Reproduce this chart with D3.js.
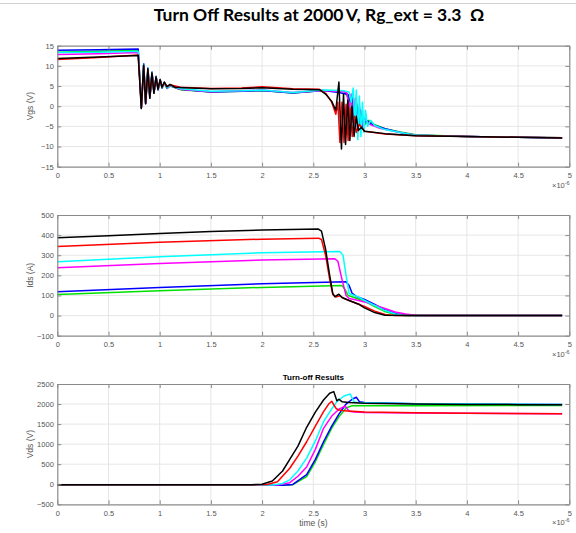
<!DOCTYPE html>
<html>
<head>
<meta charset="utf-8">
<script src="https://cdnjs.cloudflare.com/ajax/libs/d3/7.8.5/d3.min.js"></script>
<style>
  body { margin: 0; background: #fff; }
  svg { display: block; }
</style>
</head>
<body>
<script>
// time axis (x 1e-6 s)
const xTicks = [0, 0.5, 1, 1.5, 2, 2.5, 3, 3.5, 4, 4.5, 5];
const vgsTicks = [-15, -10, -5, 0, 5, 10, 15];
const idsTicks = [-100, 0, 100, 200, 300, 400, 500];
const vdsTicks = [-500, 0, 500, 1000, 1500, 2000, 2500];

// Vgs (V) traces, [t, v]
const vgsGreen = [[0,13.4],[0.4,13.6],[0.79,13.8],[0.81,5],[0.821,-0.2],[0.844,10.1],[0.863,0.9],[0.885,9.1],[0.904,2.3],[0.925,8.1],[0.944,3.4],[0.965,7.1],[0.984,4.2],[1.005,6.3],[1.023,4.5],[1.046,5.7],[1.072,4.4],[1.1,5],[1.2,4.1],[1.5,3.5],[1.8,3.7],[2.0,3.9],[2.3,3.3],[2.6,3.9],[2.8,3.8],[2.84,2],[2.86,-2],[2.88,2.5],[2.9,-4],[2.92,1.5],[2.94,-5],[2.96,-1],[2.99,-5],[3.04,-3.5],[3.1,-4.6],[3.2,-5.6],[3.35,-6.4],[3.5,-7.1],[4,-7.5],[4.5,-7.7],[4.93,-7.8]];
const vgsBlue = [[0,13.9],[0.4,14],[0.79,14.2],[0.81,5],[0.821,-0.4],[0.844,10.5],[0.863,0.6],[0.885,9.5],[0.904,2],[0.925,8.5],[0.944,3.2],[0.965,7.4],[0.984,4],[1.005,6.6],[1.023,4.5],[1.046,5.9],[1.072,4.4],[1.1,5.1],[1.2,4.2],[1.5,3.5],[1.8,3.7],[2.0,3.9],[2.3,3.3],[2.6,3.9],[2.75,3.4],[2.84,2.9],[2.86,1],[2.88,2],[2.9,-3],[2.92,1],[2.94,-5],[2.96,-1],[2.98,-5],[3.02,-3.5],[3.08,-4.6],[3.2,-5.6],[3.35,-6.5],[3.5,-7.2],[4,-7.5],[4.5,-7.7],[4.93,-7.9]];
const vgsMagenta = [[0,12.8],[0.4,13],[0.79,13.3],[0.81,5],[0.821,-0.3],[0.844,10.2],[0.863,0.8],[0.885,9.2],[0.904,2.2],[0.925,8.2],[0.944,3.4],[0.965,7.2],[0.984,4.2],[1.005,6.4],[1.023,4.6],[1.046,5.8],[1.072,4.5],[1.1,5.1],[1.2,4.2],[1.5,3.6],[1.8,3.8],[2.0,4],[2.3,3.4],[2.6,3.9],[2.8,3.6],[2.83,3.3],[2.85,-1],[2.87,3],[2.89,-4],[2.91,2],[2.93,-5],[2.95,0],[2.97,-5],[3.0,-3],[3.05,-4.5],[3.15,-5.5],[3.3,-6.3],[3.5,-7.2],[4,-7.5],[4.5,-7.7],[4.93,-7.8]];
const vgsCyan = [[0,13.3],[0.4,13.4],[0.79,13.6],[0.81,5],[0.821,-0.4],[0.844,10.4],[0.863,0.7],[0.885,9.4],[0.904,2.1],[0.925,8.4],[0.944,3.3],[0.965,7.3],[0.984,4.1],[1.005,6.5],[1.023,4.6],[1.046,5.9],[1.072,4.5],[1.1,5.2],[1.2,4.3],[1.5,3.7],[1.8,3.8],[2.0,4],[2.3,3.4],[2.6,4],[2.8,3.8],[2.85,3.5],[2.87,1],[2.89,4.5],[2.905,-5],[2.92,4],[2.935,-8.3],[2.95,2.5],[2.965,-7.5],[2.98,1],[2.995,-6.5],[3.01,-1],[3.03,-5],[3.06,-3.5],[3.1,-4.8],[3.2,-5.8],[3.35,-6.5],[3.5,-7.2],[4,-7.5],[4.5,-7.7],[4.93,-7.8]];
const vgsRed = [[0,11.6],[0.4,12.1],[0.79,12.7],[0.81,4],[0.822,-0.3],[0.845,9.8],[0.864,0.8],[0.886,9],[0.905,2.3],[0.926,8],[0.945,3.4],[0.966,7],[0.985,4.3],[1.006,6.4],[1.024,4.8],[1.047,5.8],[1.075,4.9],[1.1,5.3],[1.2,4.7],[1.5,4.4],[1.8,4.5],[2.0,4.8],[2.3,4.3],[2.56,4.2],[2.62,3.2],[2.68,1],[2.72,-2],[2.74,1],[2.76,-9],[2.78,1],[2.8,-9],[2.82,0.5],[2.84,-8.5],[2.86,-0.5],[2.88,-7.5],[2.9,-2.5],[2.92,-6.5],[2.95,-4.5],[3.0,-6.2],[3.2,-6.9],[3.5,-7.3],[4,-7.5],[4.5,-7.7],[4.93,-7.8]];
const vgsBlack = [[0,11.8],[0.4,12.2],[0.79,12.6],[0.81,4],[0.82,-0.6],[0.843,10.2],[0.862,0.6],[0.884,9.3],[0.903,2],[0.924,8.3],[0.943,3.2],[0.964,7.3],[0.983,4.2],[1.004,6.6],[1.022,4.7],[1.045,6],[1.07,4.8],[1.1,5.4],[1.15,4.7],[1.25,4.6],[1.5,4.3],[1.8,4.4],[2.0,4.6],[2.3,4.2],[2.56,4.1],[2.62,3],[2.68,1.2],[2.72,-1],[2.75,6],[2.775,-10.6],[2.795,3],[2.815,-9.5],[2.837,1.5],[2.857,-8.5],[2.878,0],[2.898,-7.5],[2.92,-2.5],[2.94,-6],[2.97,-5.2],[3.0,-6.2],[3.2,-6.8],[3.5,-7.3],[4,-7.5],[4.5,-7.7],[4.93,-7.9]];

// Ids (A) traces
const idsGreen = [[0,105],[1,124],[2,140],[2.78,149],[2.81,130],[2.84,100],[2.9,90],[3.0,72],[3.1,45],[3.2,20],[3.3,5],[3.4,0],[4.93,0]];
const idsBlue = [[0,119],[1,140],[2,158],[2.82,168],[2.85,150],[2.88,110],[2.92,95],[3.0,80],[3.1,55],[3.2,28],[3.3,10],[3.4,2],[3.5,0],[4.93,0]];
const idsMagenta = [[0,238],[1,259],[2,276],[2.71,282],[2.74,270],[2.78,180],[2.82,100],[2.85,85],[2.9,80],[3.0,68],[3.1,52],[3.2,35],[3.3,18],[3.4,8],[3.5,2],[3.6,0],[4.93,0]];
const idsCyan = [[0,268],[1,293],[2,312],[2.76,318],[2.79,300],[2.82,200],[2.85,110],[2.9,100],[2.95,90],[3.0,75],[3.1,50],[3.2,25],[3.3,8],[3.4,0],[4.93,0]];
const idsRed = [[0,343],[1,364],[2,380],[2.55,385],[2.58,378],[2.62,300],[2.66,180],[2.69,105],[2.72,92],[2.76,98],[2.8,85],[2.9,65],[3.0,45],[3.1,22],[3.2,5],[3.3,0],[4.93,0]];
const idsBlack = [[0,387],[0.5,397],[1,408],[1.5,418],[2,425],[2.55,430],[2.58,420],[2.62,330],[2.66,200],[2.69,110],[2.71,94],[2.75,106],[2.78,90],[2.85,75],[2.95,55],[3.0,38],[3.1,15],[3.2,2],[3.4,0],[4.93,0]];

// Vds (V) traces
const vdsGreen = [[0,-25],[2.2,-25],[2.3,-10],[2.435,190],[2.52,560],[2.6,990],[2.68,1400],[2.75,1680],[2.82,1900],[2.88,1960],[3.0,1960],[3.5,1960],[4.93,1965]];
const vdsBlue = [[0,-25],[2.2,-25],[2.3,-5],[2.435,240],[2.52,620],[2.6,1060],[2.68,1450],[2.75,1750],[2.82,2000],[2.88,2120],[2.92,2170],[2.95,2060],[3.0,2040],[3.5,2010],[4,2000],[4.93,1990]];
const vdsMagenta = [[0,-20],[2.15,-20],[2.27,40],[2.35,200],[2.435,430],[2.52,870],[2.6,1395],[2.68,1700],[2.75,1870],[2.81,1950],[2.85,1820],[2.9,1800],[3.0,1790],[3.5,1775],[4.93,1760]];
const vdsCyan = [[0,-20],[2.1,-20],[2.2,20],[2.27,110],[2.35,330],[2.435,650],[2.52,1080],[2.6,1560],[2.68,1880],[2.73,2060],[2.8,2200],[2.86,2250],[2.9,2050],[2.93,2040],[3.0,2030],[3.5,2010],[4,2000],[4.93,1990]];
const vdsRed = [[0,-15],[1.9,-15],[2.05,-5],[2.15,60],[2.27,400],[2.35,700],[2.435,1060],[2.52,1450],[2.6,1810],[2.65,2000],[2.68,2070],[2.72,1900],[2.74,1860],[2.8,1830],[3.0,1800],[3.5,1780],[4,1770],[4.93,1760]];
const vdsBlack = [[0,-10],[1,-12],[1.9,-10],[2.0,0],[2.1,80],[2.2,330],[2.27,620],[2.35,950],[2.435,1420],[2.52,1800],[2.6,2100],[2.66,2270],[2.7,2310],[2.73,2080],[2.75,2120],[2.78,2060],[2.85,2040],[3.0,2020],[3.5,2000],[4,1990],[4.5,1985],[4.93,1980]];

const traceColors = ['#00e000', '#0000ff', '#ff00ff', '#00ffff', '#ff0000', '#000000'];

const w = 576;
const h = 533;
const left = 57.3;
const right = 569.3;
const font = '"Liberation Sans", Arial, sans-serif';

const panels = [
  { top: 45.7, bottom: 166.7, ticks: vgsTicks, label: 'Vgs (V)',
    series: [vgsGreen, vgsBlue, vgsMagenta, vgsCyan, vgsRed, vgsBlack] },
  { top: 215, bottom: 335.7, ticks: idsTicks, label: 'Ids (A)',
    series: [idsGreen, idsBlue, idsMagenta, idsCyan, idsRed, idsBlack] },
  { top: 384, bottom: 504.3, ticks: vdsTicks, label: 'Vds (V)', title: 'Turn-off Results', xlabel: 'time (s)',
    series: [vdsGreen, vdsBlue, vdsMagenta, vdsCyan, vdsRed, vdsBlack] },
];

const svg = d3.select('body')
  .append('svg')
  .attr('width', w)
  .attr('height', h)
  .style('font-family', font);

// thin rule at the very top
svg.append('line')
  .attr('x1', 0).attr('x2', w)
  .attr('y1', 3.5).attr('y2', 3.5)
  .attr('stroke', '#d0d0d0');

svg.append('text')
  .attr('x', 319)
  .attr('y', 21)
  .attr('text-anchor', 'middle')
  .style('font-family', 'Lato, "Open Sans", sans-serif')
  .style('font-weight', 'bold')
  .style('font-size', '17.5px')
  .text('Turn Off Results at 2000\u2009V, Rg_ext = 3.3 \u00a0\u03A9');

const xScale = d3.scaleLinear().domain([0, 5]).range([left, right]);

panels.forEach((p) => {
  const yScale = d3.scaleLinear()
    .domain([p.ticks[0], p.ticks[p.ticks.length - 1]])
    .range([p.bottom, p.top]);
  const g = svg.append('g');

  // grid
  g.selectAll('.gx').data(xTicks.slice(1, -1)).enter().append('line')
    .attr('x1', (d) => xScale(d)).attr('x2', (d) => xScale(d))
    .attr('y1', p.top).attr('y2', p.bottom)
    .attr('stroke', '#e6e6e6');
  g.selectAll('.gy').data(p.ticks.slice(1, -1)).enter().append('line')
    .attr('x1', left).attr('x2', right)
    .attr('y1', (d) => yScale(d)).attr('y2', (d) => yScale(d))
    .attr('stroke', '#e6e6e6');

  // traces
  const line = d3.line().x((d) => xScale(d[0])).y((d) => yScale(d[1]));
  g.selectAll('.trace').data(p.series).enter().append('path')
    .attr('d', line)
    .attr('fill', 'none')
    .attr('stroke', (d, i) => traceColors[i])
    .attr('stroke-width', 1.5)
    .attr('stroke-linejoin', 'round');

  // axes, ticks inside, box on
  const tickStyle = (sel) => {
    sel.attr('font-family', font);
    sel.select('.domain').attr('stroke', '#8a8a8a').attr('stroke-width', 1.2);
    sel.selectAll('.tick line').attr('stroke', '#8a8a8a');
    sel.selectAll('.tick text').attr('fill', '#555').style('font-size', '7.5px');
  };
  g.append('g')
    .attr('transform', `translate(0, ${p.bottom})`)
    .call(d3.axisBottom(xScale).tickValues(xTicks).tickSizeInner(-4).tickSizeOuter(0).tickPadding(6).tickFormat(d3.format('')))
    .call(tickStyle);
  g.append('g')
    .attr('transform', `translate(0, ${p.top})`)
    .call(d3.axisTop(xScale).tickValues(xTicks).tickSizeInner(-4).tickSizeOuter(0).tickFormat(''))
    .call(tickStyle);
  g.append('g')
    .attr('transform', `translate(${left}, 0)`)
    .call(d3.axisLeft(yScale).tickValues(p.ticks).tickSizeInner(-4).tickSizeOuter(0).tickPadding(3.5).tickFormat(d3.format('d')))
    .call(tickStyle);
  g.append('g')
    .attr('transform', `translate(${right}, 0)`)
    .call(d3.axisRight(yScale).tickValues(p.ticks).tickSizeInner(-4).tickSizeOuter(0).tickFormat(''))
    .call(tickStyle);

  // y label
  g.append('text')
    .attr('transform', `translate(33, ${(p.top + p.bottom) / 2}) rotate(-90)`)
    .attr('text-anchor', 'middle')
    .attr('fill', '#555')
    .style('font-size', '8.5px')
    .text(p.label);

  // exponent
  const ex = g.append('text')
    .attr('x', 552)
    .attr('y', p.bottom + 21)
    .attr('fill', '#555')
    .style('font-size', '7.5px');
  ex.append('tspan').text('\u00d710');
  ex.append('tspan').attr('dy', -3).style('font-size', '5.5px').text('-6');

  if (p.title) {
    g.append('text')
      .attr('x', (left + right) / 2)
      .attr('y', p.top - 4)
      .attr('text-anchor', 'middle')
      .style('font-size', '8px')
      .style('font-weight', 'bold')
      .text(p.title);
  }
  if (p.xlabel) {
    g.append('text')
      .attr('x', (left + right) / 2)
      .attr('y', p.bottom + 22)
      .attr('text-anchor', 'middle')
      .attr('fill', '#555')
      .style('font-size', '8.5px')
      .text(p.xlabel);
  }
});
</script>
</body>
</html>
